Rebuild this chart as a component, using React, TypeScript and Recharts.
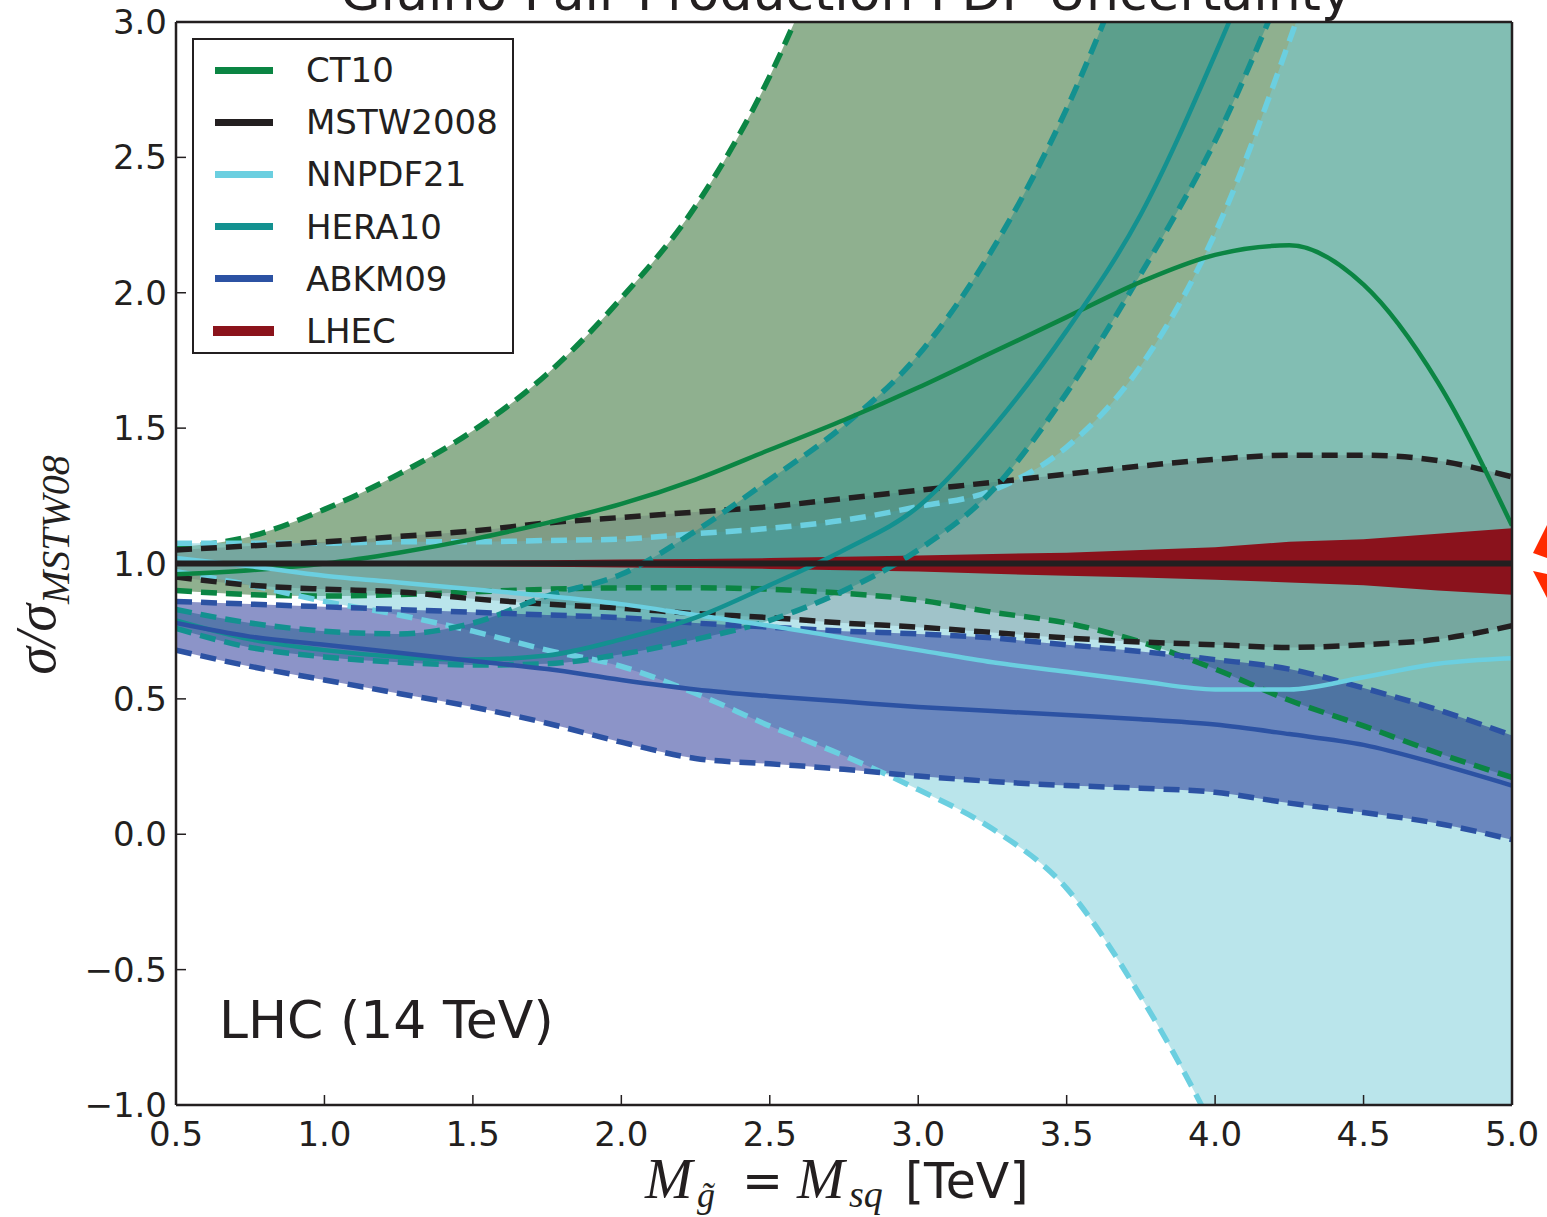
import { ComposedChart, Area, Line, XAxis, YAxis } from 'recharts';

// gluino = squark mass [TeV]
const mass = [0.5, 0.75, 1.0, 1.25, 1.5, 1.75, 2.0, 2.25, 2.5, 2.75, 3.0, 3.25, 3.5, 3.75, 4.0, 4.25, 4.5, 4.75, 5.0];

// cross-section ratios to MSTW08, central value and PDF error band edges
const ct10Mid = [0.96, 0.975, 1.0, 1.04, 1.09, 1.15, 1.22, 1.31, 1.42, 1.53, 1.65, 1.78, 1.91, 2.04, 2.14, 2.175, 2.03, 1.67, 1.14];
const ct10Up = [1.06, 1.1, 1.2, 1.33, 1.49, 1.7, 1.98, 2.32, 2.8, 3.45, 4.2, 5.0, 5.9, 6.8, 7.8, 8.8, 9.8, 10.8, 11.8];
const ct10Dn = [0.9, 0.885, 0.88, 0.885, 0.895, 0.905, 0.91, 0.91, 0.905, 0.89, 0.865, 0.82, 0.78, 0.71, 0.61, 0.495, 0.4, 0.3, 0.21];

const mstwMid = [1, 1, 1, 1, 1, 1, 1, 1, 1, 1, 1, 1, 1, 1, 1, 1, 1, 1, 1];
const mstwUp = [1.05, 1.065, 1.08, 1.1, 1.12, 1.15, 1.17, 1.19, 1.21, 1.24, 1.27, 1.3, 1.33, 1.36, 1.385, 1.4, 1.4, 1.38, 1.32];
const mstwDn = [0.95, 0.92, 0.905, 0.895, 0.87, 0.85, 0.835, 0.815, 0.8, 0.78, 0.765, 0.745, 0.725, 0.71, 0.7, 0.69, 0.7, 0.72, 0.77];

const nnpdfMid = [1.02, 0.99, 0.955, 0.93, 0.905, 0.88, 0.85, 0.81, 0.77, 0.725, 0.68, 0.635, 0.6, 0.565, 0.535, 0.535, 0.58, 0.63, 0.65];
const nnpdfUp = [1.075, 1.075, 1.075, 1.08, 1.08, 1.085, 1.09, 1.11, 1.13, 1.16, 1.21, 1.27, 1.43, 1.73, 2.22, 2.93, 3.75, 4.7, 5.7];
const nnpdfDn = [0.97, 0.92, 0.86, 0.81, 0.75, 0.68, 0.62, 0.52, 0.4, 0.29, 0.165, 0.02, -0.2, -0.6, -1.1, -1.7, -2.4, -3.2, -4.1];

const heraMid = [0.79, 0.72, 0.68, 0.655, 0.645, 0.66, 0.72, 0.8, 0.92, 1.05, 1.21, 1.5, 1.86, 2.29, 2.88, 3.55, 4.3, 5.1, 6.0];
const heraUp = [0.83, 0.78, 0.75, 0.74, 0.78, 0.88, 0.96, 1.12, 1.31, 1.51, 1.77, 2.16, 2.68, 3.35, 4.1, 4.9, 5.7, 6.5, 7.3];
const heraDn = [0.76, 0.69, 0.655, 0.635, 0.625, 0.63, 0.665, 0.72, 0.79, 0.9, 1.05, 1.27, 1.63, 2.07, 2.56, 3.18, 3.8, 4.5, 5.3];

const abkmMid = [0.78, 0.73, 0.7, 0.67, 0.64, 0.61, 0.57, 0.535, 0.51, 0.49, 0.47, 0.455, 0.44, 0.425, 0.405, 0.37, 0.33, 0.26, 0.18];
const abkmUp = [0.86, 0.85, 0.84, 0.83, 0.82, 0.81, 0.8, 0.78, 0.765, 0.75, 0.74, 0.725, 0.7, 0.675, 0.645, 0.61, 0.54, 0.46, 0.365];
const abkmDn = [0.68, 0.62, 0.57, 0.52, 0.47, 0.41, 0.34, 0.28, 0.26, 0.24, 0.215, 0.195, 0.18, 0.17, 0.155, 0.115, 0.08, 0.04, -0.02];

const lhecUp = [1.005, 1.006, 1.008, 1.009, 1.01, 1.012, 1.015, 1.017, 1.02, 1.025, 1.03, 1.035, 1.04, 1.05, 1.06, 1.08, 1.09, 1.11, 1.13];
const lhecDn = [0.995, 0.994, 0.992, 0.991, 0.99, 0.988, 0.985, 0.983, 0.98, 0.975, 0.97, 0.962, 0.955, 0.948, 0.94, 0.93, 0.92, 0.9, 0.885];

const xTicks = [0.5, 1.0, 1.5, 2.0, 2.5, 3.0, 3.5, 4.0, 4.5, 5.0];
const yTicks = [-1.0, -0.5, 0.0, 0.5, 1.0, 1.5, 2.0, 2.5, 3.0];

const legendNames = ['CT10', 'MSTW2008', 'NNPDF21', 'HERA10', 'ABKM09', 'LHEC'];

const INK = '#231f20';
const C = {
  ct10: '#0b8543',
  mstw: INK,
  nnpdf: '#6bcfe0',
  hera: '#139190',
  abkm: '#2c52a3',
  lhec: '#8b131b',
};
const legendColors = [C.ct10, C.mstw, C.nnpdf, C.hera, C.abkm, C.lhec];

const rows = mass.map((m, i) => ({
  m,
  ct10: ct10Mid[i], ct10Up: ct10Up[i], ct10Dn: ct10Dn[i], ct10Band: [ct10Dn[i], ct10Up[i]],
  mstw: mstwMid[i], mstwUp: mstwUp[i], mstwDn: mstwDn[i], mstwBand: [mstwDn[i], mstwUp[i]],
  nnpdf: nnpdfMid[i], nnpdfUp: nnpdfUp[i], nnpdfDn: nnpdfDn[i], nnpdfBand: [nnpdfDn[i], nnpdfUp[i]],
  hera: heraMid[i], heraUp: heraUp[i], heraDn: heraDn[i], heraBand: [heraDn[i], heraUp[i]],
  abkm: abkmMid[i], abkmUp: abkmUp[i], abkmDn: abkmDn[i], abkmBand: [abkmDn[i], abkmUp[i]],
  lhecBand: [lhecDn[i], lhecUp[i]],
}));

const fmt = (v: number) => v.toFixed(1).replace('-', '\u2212');
const tickFont = { fontSize: 34, fill: INK, fontFamily: 'DejaVu Sans' };
const frame = { stroke: INK, strokeWidth: 2.5 };
const tickStroke = { stroke: INK, strokeWidth: 1.5 };
const DASH = '16 9';

export default function App() {
  const band = (key: string, fill: string, opacity: number, type: any = 'monotone') => (
    <Area
      key={key}
      dataKey={key}
      type={type}
      fill={fill}
      fillOpacity={opacity}
      stroke="none"
      isAnimationActive={false}
      activeDot={false}
    />
  );
  const line = (key: string, color: string, dashed: boolean, width?: number) => (
    <Line
      key={key}
      dataKey={key}
      type="monotone"
      stroke={color}
      strokeWidth={width ?? (dashed ? 5.5 : 4.5)}
      strokeDasharray={dashed ? DASH : undefined}
      dot={false}
      activeDot={false}
      isAnimationActive={false}
    />
  );

  return (
    <div style={{ position: 'absolute', left: 0, top: 0, width: 1547, height: 1217, background: '#fff' }}>
      <ComposedChart
        width={1547}
        height={1217}
        data={rows}
        margin={{ top: 12, right: 25, bottom: 52, left: 76 }}
      >
        <XAxis
          type="number"
          dataKey="m"
          domain={[0.5, 5]}
          ticks={xTicks}
          interval={0}
          height={60}
          tickSize={-10}
          tickMargin={27}
          tickFormatter={fmt}
          tick={tickFont}
          axisLine={frame}
          tickLine={tickStroke}
          allowDataOverflow
        />
        <XAxis
          xAxisId="top"
          orientation="top"
          type="number"
          domain={[0.5, 5]}
          ticks={xTicks}
          interval={0}
          height={10}
          tickSize={-10}
          tick={false}
          axisLine={frame}
          tickLine={tickStroke}
        />
        <YAxis
          type="number"
          domain={[-1, 3]}
          ticks={yTicks}
          interval={0}
          width={100}
          tickSize={-10}
          tickMargin={19}
          tickFormatter={fmt}
          tick={tickFont}
          axisLine={frame}
          tickLine={tickStroke}
          allowDataOverflow
        />
        <YAxis
          yAxisId="right"
          orientation="right"
          type="number"
          domain={[-1, 3]}
          ticks={yTicks}
          interval={0}
          width={10}
          tickSize={-10}
          tick={false}
          axisLine={frame}
          tickLine={tickStroke}
        />

        {band('ct10Band', '#1f611f', 0.5)}
        {band('nnpdfBand', '#75cbd7', 0.5)}
        {band('mstwBand', '#556668', 0.26)}
        {band('heraBand', '#298e89', 0.5)}
        {band('abkmBand', '#192991', 0.5)}
        {band('lhecBand', '#8a121c', 1, 'linear')}

        {line('ct10Up', C.ct10, true)}
        {line('ct10Dn', C.ct10, true)}
        {line('nnpdfUp', C.nnpdf, true)}
        {line('nnpdfDn', C.nnpdf, true)}
        {line('mstwUp', C.mstw, true)}
        {line('mstwDn', C.mstw, true)}
        {line('heraUp', C.hera, true)}
        {line('heraDn', C.hera, true)}
        {line('abkmUp', C.abkm, true)}
        {line('abkmDn', C.abkm, true)}
        {line('ct10', C.ct10, false)}
        {line('nnpdf', C.nnpdf, false)}
        {line('hera', C.hera, false)}
        {line('abkm', C.abkm, false)}
        {line('mstw', C.mstw, false, 6)}
      </ComposedChart>

      <svg
        width={1547}
        height={1217}
        style={{ position: 'absolute', left: 0, top: 0, pointerEvents: 'none' }}
      >
        <text x={846} y={10} textAnchor="middle" fontSize={52} fontFamily="DejaVu Sans" fill={INK}>
          Gluino Pair Production PDF Uncertainty
        </text>
        <text x={219} y={1038} fontSize={52} fontFamily="DejaVu Sans" fill={INK}>
          LHC (14 TeV)
        </text>

        {/* y axis label */}
        <text
          transform="translate(55,565) rotate(-90)"
          textAnchor="middle"
          fontFamily="Liberation Serif"
          fontStyle="italic"
          fill={INK}
        >
          <tspan fontSize={56}>σ/σ</tspan>
          <tspan fontSize={40} dy={14}>MSTW08</tspan>
        </text>

        {/* x axis label */}
        <g fill={INK}>
          <text x={645} y={1198} fontSize={57} fontFamily="Liberation Serif" fontStyle="italic">M</text>
          <text x={697} y={1207} fontSize={36} fontFamily="Liberation Serif" fontStyle="italic">g̃</text>
          <text x={742} y={1198} fontSize={49} fontFamily="DejaVu Sans">=</text>
          <text x={797} y={1198} fontSize={57} fontFamily="Liberation Serif" fontStyle="italic">M</text>
          <text x={849} y={1207} fontSize={38} fontFamily="Liberation Serif" fontStyle="italic">sq</text>
          <text x={905} y={1198} fontSize={49} fontFamily="DejaVu Sans">[TeV]</text>
        </g>

        {/* red marker at the right edge */}
        <polygon points="1533,553 1547,525 1547,558" fill="#ff2a00" />
        <polygon points="1533,571 1547,574 1547,598" fill="#ff2a00" />
      </svg>

      {/* legend */}
      <div
        style={{
          position: 'absolute',
          left: 192,
          top: 38,
          width: 318,
          height: 312,
          border: `2.5px solid ${INK}`,
          background: '#fff',
          fontFamily: 'DejaVu Sans',
          fontSize: 34,
          color: INK,
        }}
      >
        {legendNames.map((name, i) => {
          const thick = i === 5 ? 10 : 7;
          return (
            <div
              key={name}
              style={{ position: 'absolute', left: 0, top: 10 + i * 52.2, height: 40, width: '100%' }}
            >
              <div
                style={{
                  position: 'absolute',
                  left: i === 5 ? 19 : 21,
                  top: 20 - thick / 2,
                  width: i === 5 ? 61 : 58,
                  height: thick,
                  background: legendColors[i],
                }}
              />
              <div style={{ position: 'absolute', left: 112, top: 0, lineHeight: '40px' }}>{name}</div>
            </div>
          );
        })}
      </div>
    </div>
  );
}
